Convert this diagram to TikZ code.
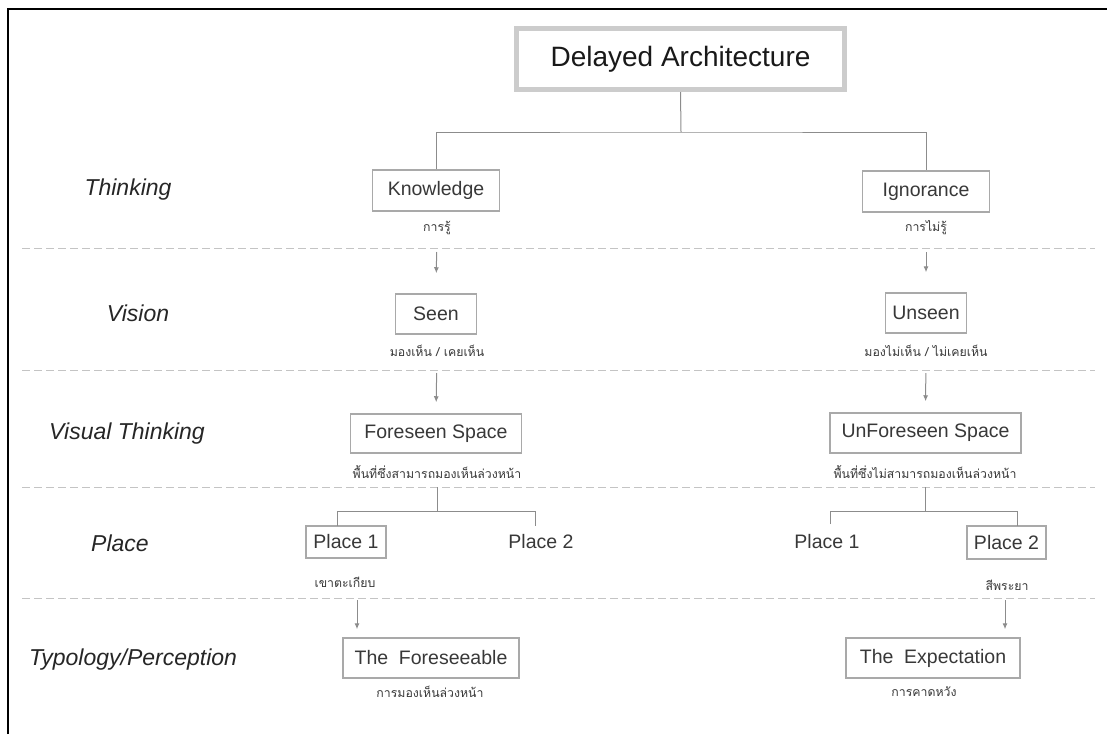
\documentclass[tikz,border=0pt]{standalone}
\usepackage{fontspec}
\usepackage{xcolor}
\usetikzlibrary{arrows.meta}
\setmainfont{Liberation Sans}
\newfontfamily\thai[Script=Thai]{Loma}
\definecolor{boxgray}{HTML}{A9A9A9}
\definecolor{linegray}{HTML}{8C8C8C}
\definecolor{dashgray}{HTML}{C4C4C4}
\definecolor{ink}{HTML}{383838}

\begin{document}
\begin{tikzpicture}[x=1pt,y=-1pt,
  box/.style={draw=boxgray,line width=1.5pt,inner sep=0pt,text=ink,
    font=\fontsize{19.5}{22}\selectfont},
  word/.style={inner sep=0pt,text=ink,font=\fontsize{19.5}{22}\selectfont},
  th/.style={inner sep=0pt,text=ink,font=\thai\fontsize{12.3}{15}\selectfont},
  lvl/.style={inner sep=0pt,text=black!85,font=\fontsize{23}{26}\selectfont\itshape},
  link/.style={draw=linegray,line width=1pt},
  arr/.style={draw=linegray,line width=1pt,-{Latex[length=6pt,width=5pt]}},
  sep/.style={draw=dashgray,line width=1pt,dash pattern=on 8pt off 4pt}]
  \useasboundingbox (0,0) rectangle (1107,734);
  % frame
  \draw[line width=2.2pt] (8,734) -- (8,9) -- (1107,9);

  % level separators
  \foreach \y in {248,370,487,598}
    \draw[sep] (22,\y) -- (1095,\y);

  % level names
  \node[lvl] (l1) at (128,190) {Thinking};
  \node[lvl] (l2) at (138,313) {Vision};
  \node[lvl] (l3) at (127,434) {Visual Thinking};
  \node[lvl] (l4) at (120,543) {Place};
  \node[lvl] (l5) at (133,660) {Typology/Perception};

  % top
  \node[draw=black!20,line width=5pt,minimum width=328pt,minimum height=61pt,
    inner sep=0pt,text=black!90,font=\fontsize{28}{32}\selectfont] (top) at (680.5,59)
    {Delayed Architecture};

  \node[box,minimum width=127pt,minimum height=41pt] (kn) at (436,190.5) {Knowledge};
  \node[th] (knt) at (437,228) {การรู้};
  \node[box,minimum width=127pt,minimum height=41pt] (ig) at (926,191.5) {Ignorance};
  \node[th] (igt) at (926,228) {การไม่รู้};

  \node[box,minimum width=81pt,minimum height=40pt] (se) at (436,314) {Seen};
  \node[th] (set) at (437,351) {มองเห็น / เคยเห็น};
  \node[box,minimum width=81pt,minimum height=40pt] (us) at (926,313) {Unseen};
  \node[th] (ust) at (926,351) {มองไม่เห็น / ไม่เคยเห็น};

  \node[box,minimum width=171pt,minimum height=39pt] (fs) at (436,433.5) {Foreseen Space};
  \node[th] (fst) at (437,472) {พื้นที่ซึ่งสามารถมองเห็นล่วงหน้า};
  \node[box,minimum width=191pt,minimum height=40pt] (ufs) at (925.5,433) {UnForeseen Space};
  \node[th] (ufst) at (925,472) {พื้นที่ซึ่งไม่สามารถมองเห็นล่วงหน้า};

  \node[box,minimum width=80pt,minimum height=32pt] (pa1) at (346,542) {Place 1};
  \node[word] (pa2) at (541,542) {Place 2};
  \node[th] (pa1t) at (345,582) {เขาตะเกียบ};
  \node[word] (pb1) at (827,542) {Place 1};
  \node[box,minimum width=79pt,minimum height=33pt] (pb2) at (1006.5,542.5) {Place 2};
  \node[th] (pb2t) at (1007,585) {สีพระยา};

  \node[box,minimum width=176pt,minimum height=40pt] (fo) at (431,658) {The\hspace{0.55em}Foreseeable};
  \node[th] (fot) at (430,692) {การมองเห็นล่วงหน้า};
  \node[box,minimum width=174pt,minimum height=40pt] (ex) at (933,658) {The\hspace{0.55em}Expectation};
  \node[th] (ext) at (924,692) {การคาดหวัง};

  % tree lines
  \coordinate (split) at (681,132);
  \draw[link] (top.south) -- (split);
  \draw[link] (kn.north) |- (split) -| (ig.north);

  \draw[arr,shorten <=24pt,shorten >=20pt] (knt.center) -- (se.north);
  \draw[arr,shorten <=24pt,shorten >=20pt] (igt.center) -- (us.north);
  \draw[arr,shorten <=22pt,shorten >=11pt] (set.center) -- (fs.north);
  \draw[arr,shorten <=22pt,shorten >=11pt] (ust.center) -- (ufs.north);

  \coordinate (fa) at (437,511);
  \coordinate (a1) at (337,526);
  \coordinate (a2) at (535,526);
  \draw[link,shorten <=15pt] (fst.center) -- (fa);
  \draw[link] (a1) |- (fa) -| (a2);
  \coordinate (fb) at (925,511);
  \coordinate (b1) at (830,524);
  \coordinate (b2) at (1017,526);
  \draw[link,shorten <=15pt] (ufst.center) -- (fb);
  \draw[link] (b1) |- (fb) -| (b2);

  \coordinate (da) at (357,600);
  \coordinate (db) at (1005,600);
  \draw[arr,shorten >=8pt] (da) -- (da |- fo.north);
  \draw[arr,shorten >=8pt] (db) -- (db |- ex.north);
\end{tikzpicture}
\end{document}
